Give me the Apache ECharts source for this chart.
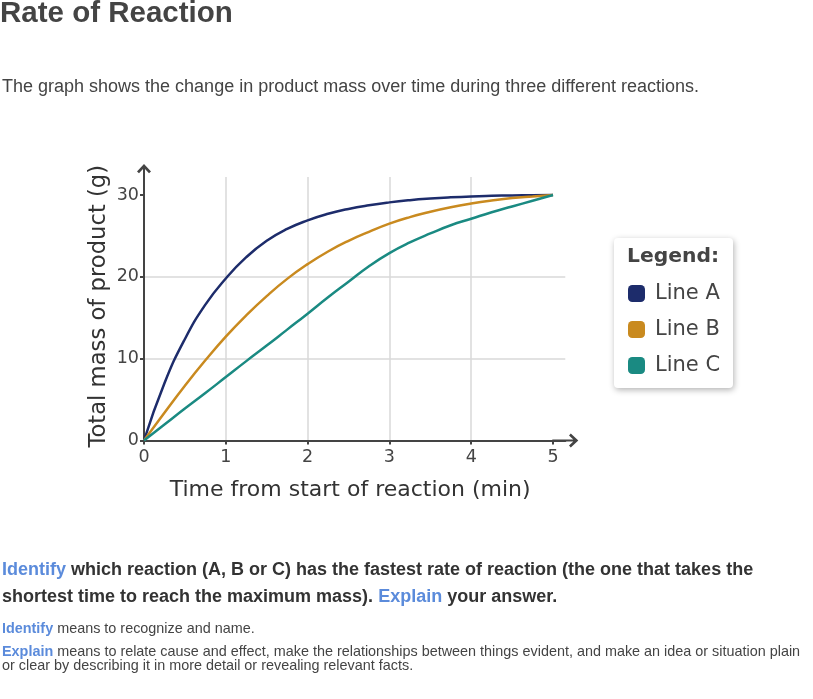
<!DOCTYPE html>
<html>
<head>
<meta charset="utf-8">
<script src="https://cdn.jsdelivr.net/npm/echarts@6/dist/echarts.min.js"></script>
<style>
  html, body { margin: 0; padding: 0; background: #fff; width: 813px; height: 699px; overflow: hidden; }
  #chart { position: absolute; left: 0; top: 0; width: 813px; height: 699px; }
  .t { position: absolute; left: 2px; white-space: nowrap; font-family: "Liberation Sans", Arial, sans-serif; color: #444; }
  .b { color: #5b8bdb; }
  #title { left: 0; top: -2.7px; font-size: 29.5px; line-height: 29.5px; font-weight: bold; color: #444; }
  #sub { top: 76.5px; font-size: 18px; line-height: 18px; color: #444; }
  #q { top: 556px; font-size: 18px; line-height: 27px; font-weight: bold; color: #333; }
  #d1 { top: 620.5px; font-size: 14.4px; line-height: 14.4px; color: #444; }
  #d2 { top: 643.5px; font-size: 14.4px; line-height: 14.4px; color: #444; }
  #d1 .b, #d2 .b { font-weight: bold; }
</style>
</head>
<body>
<div id="chart"></div>
<div class="t" id="title">Rate of Reaction</div>
<div class="t" id="sub">The graph shows the change in product mass over time during three different reactions.</div>
<div class="t" id="q"><span class="b">Identify</span> which reaction (A, B or C) has the fastest rate of reaction (the one that takes the<br>shortest time to reach the maximum mass). <span class="b">Explain</span> your answer.</div>
<div class="t" id="d1"><span class="b">Identify</span> means to recognize and name.</div>
<div class="t" id="d2"><span class="b">Explain</span> means to relate cause and effect, make the relationships between things evident, and make an idea or situation plain<br>or clear by describing it in more detail or revealing relevant facts.</div>
<script>
// ---- data ----
var times = [0, 0.25, 0.5, 0.75, 1, 1.25, 1.5, 1.75, 2, 2.25, 2.5, 2.75, 3, 3.25, 3.5, 3.75, 4, 4.25, 4.5, 4.75, 5];
var lineA = [0, 7.0, 12.4, 16.6, 19.8, 22.4, 24.4, 25.85, 26.9, 27.7, 28.3, 28.75, 29.1, 29.37, 29.57, 29.72, 29.83, 29.9, 29.95, 29.98, 30];
var lineB = [0, 3.4, 6.7, 9.8, 12.7, 15.3, 17.65, 19.75, 21.55, 23.1, 24.4, 25.5, 26.5, 27.3, 27.95, 28.5, 28.95, 29.32, 29.62, 29.82, 30];
var lineC = [0, 1.95, 3.9, 5.8, 7.75, 9.7, 11.6, 13.55, 15.5, 17.5, 19.4, 21.3, 22.9, 24.2, 25.3, 26.3, 27.1, 27.9, 28.6, 29.3, 30];
var seriesNames = ['Line A', 'Line B', 'Line C'];
var xTicks = [0, 1, 2, 3, 4, 5];
var yTicks = [0, 10, 20, 30];
var xName = 'Time from start of reaction (min)';
var yName = 'Total mass of product (g)';
var legendTitle = 'Legend:';

var colors = ['#1d2c6b', '#c98a1f', '#1a8a82'];
function pairs(xs, ys) { return xs.map(function (x, i) { return [x, ys[i]]; }); }

var arrowPath = 'path://M7 0L14 7.5L12 9.3L8 5L8 26L6 26L6 5L2 9.3L0 7.5Z';
var fontF = '"DejaVu Sans", sans-serif';
var axisCommon = {
  axisLine: { show: true, onZero: true, lineStyle: { color: '#444', width: 2 }, symbol: ['none', arrowPath], symbolSize: [14, 26] },
  axisTick: { show: true, length: 4, lineStyle: { color: '#444', width: 2 } },
  splitLine: { show: true, showMinLine: false, showMaxLine: false, lineStyle: { color: '#d9d9d9', width: 1.5 } }
};

var chart = echarts.init(document.getElementById('chart'), null, { renderer: 'canvas' });
var option = {
  backgroundColor: 'transparent',
  animation: false,
  color: colors,
  grid: { left: 144, right: 247.7, top: 177, bottom: 258.5, containLabel: false },
  xAxis: Object.assign({}, axisCommon, {
    type: 'value', min: 0, max: 5.15, interval: 1,
    name: xName, nameLocation: 'middle', nameGap: 39,
    nameTextStyle: { color: '#333', fontFamily: fontF, fontSize: 22, padding: [0, 9, 0, 0] },
    axisTick: Object.assign({}, axisCommon.axisTick, { customValues: xTicks }),
    axisLabel: { customValues: xTicks, color: '#444', fontFamily: fontF, fontSize: 17.5, margin: 8 }
  }),
  yAxis: Object.assign({}, axisCommon, {
    type: 'value', min: 0, max: 32.2, interval: 10,
    name: yName, nameLocation: 'middle', nameGap: 33, nameRotate: 90, nameMoveOverlap: false,
    nameTextStyle: { color: '#333', fontFamily: fontF, fontSize: 22.7, padding: [0, 0, 0, 5] },
    axisTick: Object.assign({}, axisCommon.axisTick, { customValues: yTicks }),
    axisLabel: { customValues: yTicks, color: '#444', fontFamily: fontF, fontSize: 17.5, margin: 5 }
  }),
  legend: {
    orient: 'vertical', left: 623, top: 278,
    icon: 'roundRect', itemWidth: 17, itemHeight: 17, itemGap: 15,
    textStyle: { color: '#444', fontFamily: fontF, fontSize: 21, lineHeight: 21, padding: [0, 0, 0, 5] },
    data: seriesNames
  },
  graphic: [
    { type: 'rect', left: 614, top: 238, z: -1, shape: { width: 119, height: 150, r: 4 },
      style: { fill: '#fff', shadowBlur: 6, shadowColor: 'rgba(0,0,0,0.3)', shadowOffsetX: 1, shadowOffsetY: 2 } },
    { type: 'text', left: 627, top: 247, z: 10,
      style: { text: legendTitle, fill: '#444', font: 'bold 20.3px "DejaVu Sans", sans-serif' } }
  ],
  series: seriesNames.map(function (n, i) {
    return { name: n, type: 'line', data: pairs(times, [lineA, lineB, lineC][i]), smooth: true, showSymbol: false, lineStyle: { width: 2.5 } };
  })
};
chart.setOption(option);
</script>
</body>
</html>
